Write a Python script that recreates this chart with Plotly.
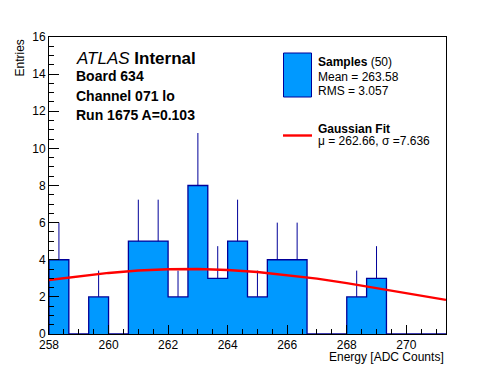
import numpy as np
import plotly.graph_objects as go

# ---------------- data ----------------
hist_low = 258.0
bin_width = 2.0 / 3.0
n_bins = 20
counts = [4, 0, 2, 0, 5, 5, 2, 8, 3, 5, 2, 4, 4, 0, 0, 2, 3, 0, 0, 0]

# Gaussian fit curve
fit_x = [258, 259, 260, 261, 262, 263, 264, 265, 266, 267, 268, 269, 270, 271, 271.333]
fit_y = [2.91, 3.12, 3.29, 3.42, 3.49, 3.50, 3.45, 3.34, 3.18, 2.98, 2.74, 2.48, 2.20, 1.93, 1.84]

title_main = "<i>ATLAS</i> <b>Internal</b>"
info_lines = ["Board 634", "Channel 071 lo", "Run 1675 A=0.103"]
legend_samples = "<b>Samples</b> (50)"
legend_mean = "Mean = 263.58"
legend_rms = "RMS = 3.057"
legend_fit = "<b>Gaussian Fit</b>"
legend_fit_par = "\u03bc = 262.66, \u03c3 =7.636"
x_title = "Energy [ADC Counts]"
y_title = "Entries"

# ---------------- styles ----------------
FILL = "#0099ff"
EDGE = "#000099"
FONT = "Liberation Sans"
W, H = 496, 372
L, R, T, B = 49, 446, 37, 334   # plot area in pixels


def px(x):
    return (x - L) / (R - L)


def py(y):
    return (B - y) / (B - T)


counts_arr = np.array(counts, dtype=float)
edges = hist_low + bin_width * np.arange(n_bins + 1)
centers = 0.5 * (edges[:-1] + edges[1:])

step_x = np.repeat(edges, 2)
step_y = np.concatenate([[0.0], np.repeat(counts_arr, 2), [0.0]])

err_x, err_y = [], []
for c, v in zip(centers, counts_arr):
    if v > 0:
        err_x += [c, c, None]
        err_y += [v, v + np.sqrt(v), None]

fig = go.Figure()
fig.add_trace(go.Bar(x=centers, y=counts_arr, width=bin_width,
                     marker=dict(color=FILL, line=dict(width=0)),
                     hoverinfo="skip"))
fig.add_trace(go.Scatter(x=step_x, y=step_y, mode="lines",
                         line=dict(color=EDGE, width=1.3), hoverinfo="skip"))
fig.add_trace(go.Scatter(x=err_x, y=err_y, mode="lines",
                         line=dict(color=EDGE, width=1), hoverinfo="skip"))
fig.add_trace(go.Scatter(x=fit_x, y=fit_y, mode="lines",
                         line=dict(color="#ff0000", width=2.4), hoverinfo="skip"))

axis_common = dict(
    ticks="inside", tickcolor="black", tickwidth=1,
    showline=True, linecolor="black", linewidth=1, mirror=True,
    showgrid=False, zeroline=False,
    tickfont=dict(family=FONT, size=12, color="black"),
    automargin=False,
)

fig.update_xaxes(range=[edges[0], edges[-1]], tick0=258, dtick=2, ticklen=9,
                 minor=dict(ticks="inside", dtick=0.5, tick0=258, ticklen=5,
                            tickcolor="black", showgrid=False),
                 **axis_common)
fig.update_yaxes(range=[0, 16], tick0=0, dtick=2, ticklen=10,
                 minor=dict(ticks="inside", dtick=0.5, tick0=0, ticklen=5,
                            tickcolor="black", showgrid=False),
                 **axis_common)

ann = []


def text(s, x, y, size, xanchor="left", yanchor="middle", angle=0):
    ann.append(dict(text=s, x=px(x), y=py(y), xref="paper", yref="paper",
                    xanchor=xanchor, yanchor=yanchor, showarrow=False,
                    textangle=angle,
                    font=dict(family=FONT, size=size, color="black")))


text(title_main, 74, 58, 17)
text("<b>%s</b>" % info_lines[0], 74, 76, 14)
text("<b>%s</b>" % info_lines[1], 74, 96, 14)
text("<b>%s</b>" % info_lines[2], 74, 115, 14)

text(legend_samples, 316, 62, 12)
text(legend_mean, 316, 77, 12)
text(legend_rms, 316, 91, 12)
text(legend_fit, 316, 129, 12)
text(legend_fit_par, 316, 141, 12)

text(x_title, 446, 357, 12, xanchor="right")
text(y_title, 19, 37, 12, xanchor="center", yanchor="top", angle=-90)

shapes = [
    dict(type="rect", xref="paper", yref="paper",
         x0=px(283.5), x1=px(311.5), y0=py(97), y1=py(53),
         fillcolor=FILL, line=dict(color=EDGE, width=1)),
    dict(type="line", xref="paper", yref="paper",
         x0=px(283), x1=px(312), y0=py(135.5), y1=py(135.5),
         line=dict(color="#ff0000", width=2.4)),
]

fig.update_layout(
    width=W, height=H,
    margin=dict(l=L, r=W - R, t=T, b=H - B, pad=0),
    paper_bgcolor="white", plot_bgcolor="white",
    showlegend=False, bargap=0,
    annotations=ann, shapes=shapes,
    font=dict(family=FONT, size=12, color="black"),
)

fig.write_html("out.html", config={"displayModeBar": False},
               post_script="document.body.style.margin='0';document.body.style.padding='0';")
